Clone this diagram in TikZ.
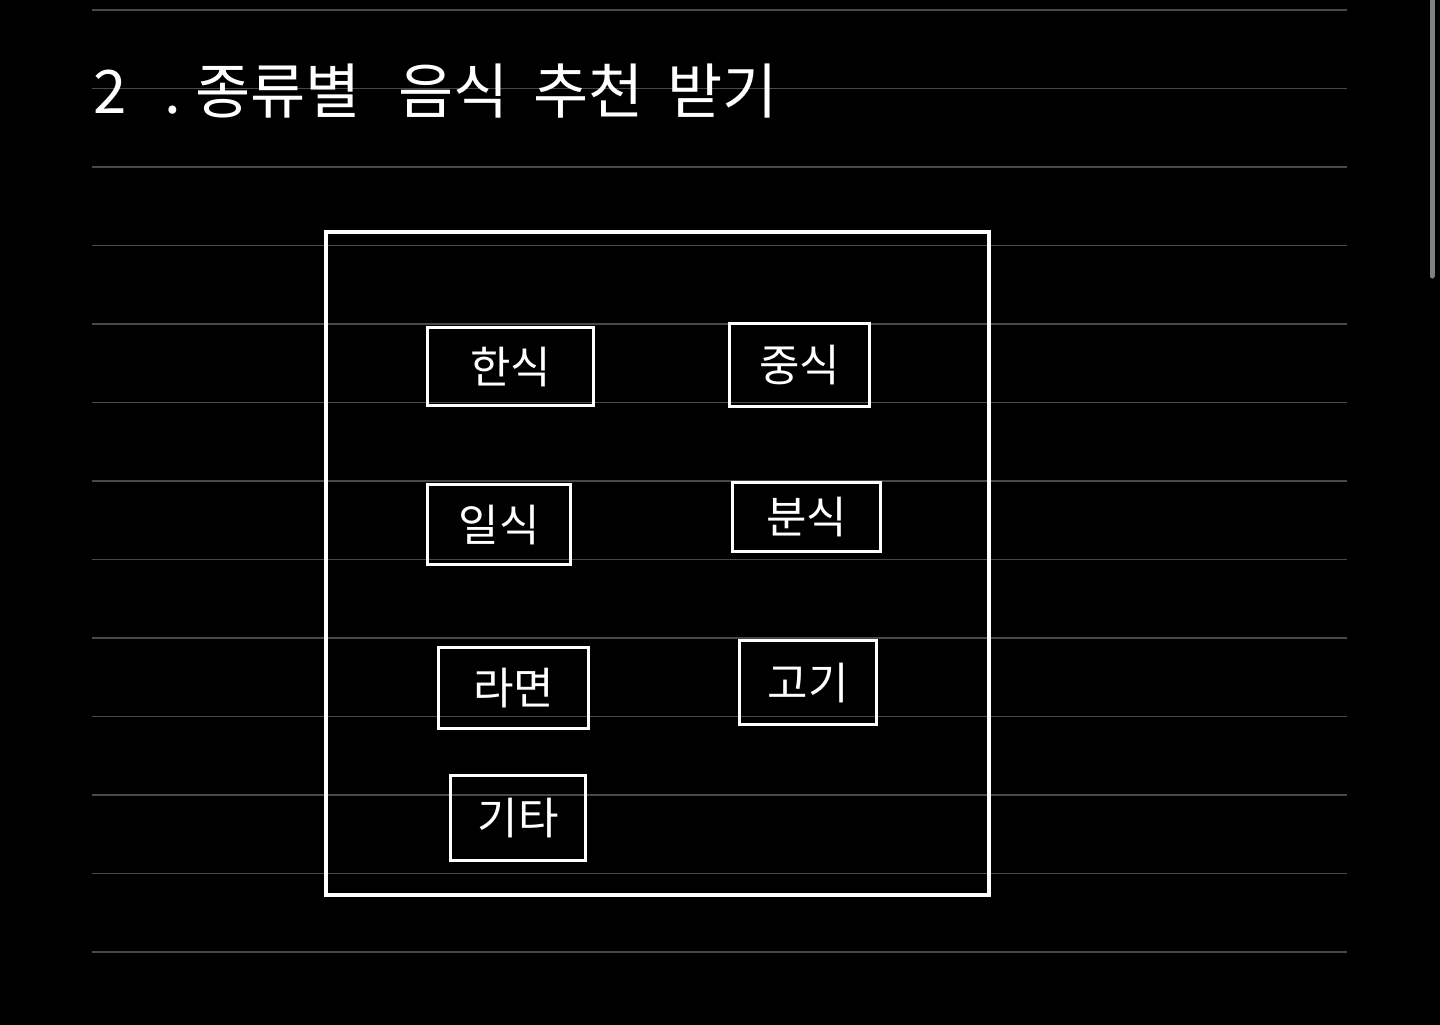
\documentclass[tikz,border=0pt]{standalone}
\usepackage{fontspec}
\newfontfamily\kr{Noto Sans CJK KR}
\usetikzlibrary{positioning}

\definecolor{ruleline}{RGB}{72,72,72}
\definecolor{scrollbar}{RGB}{128,128,128}

\begin{document}
\begin{tikzpicture}[
    x=1pt, y=-1pt,
    every node/.style={text=white},
    frame/.style={
        rectangle,
        draw=white,
        line width=3.5pt,
        minimum width=663pt,
        minimum height=663pt,
        inner sep=0pt
    },
    menu/.style={
        rectangle,
        draw=white,
        line width=3pt,
        inner sep=0pt,
        text centered,
        font=\kr\fontsize{44pt}{48pt}\selectfont
    },
    ruling/.style={draw=ruleline, line width=1.5pt}
]

    % Page
    \fill[black] (0,0) rectangle (1440,1025);
    \useasboundingbox (0,0) rectangle (1440,1025);
    \foreach \i in {0,...,12}
        \draw [ruling] (92,10+78.5*\i) -- (1347,10+78.5*\i);
    \draw [scrollbar, line width=5pt, line cap=round] (1432,0) -- (1432,276);

    % Title (wide gaps as in the handwriting)
    \node (title) [anchor=base west, inner sep=0pt, font=\kr\fontsize{60pt}{66pt}\selectfont] at (93,113)
        {2\hspace{38pt}.\hspace{14pt}종류별\hspace{38pt}음식\hspace{24pt}추천\hspace{24pt}받기};

    % Define nodes
    \node (frame) [frame] at (657.5,563.5) {};

    \node (hansik) [menu, minimum width=166pt, minimum height=78pt,
        below right=96pt and 102pt of frame.north west] {한식};
    \node (jungsik) [menu, minimum width=140pt, minimum height=83pt,
        right=133pt of hansik.north east, anchor=north west, yshift=4pt] {중식};

    \node (ilsik) [menu, minimum width=143pt, minimum height=80pt,
        below=76pt of hansik.south west, anchor=north west] {일식};
    \node (bunsik) [menu, minimum width=148pt, minimum height=69pt,
        below=73pt of jungsik.south west, anchor=north west, xshift=3pt] {분식};

    \node (ramyeon) [menu, minimum width=150pt, minimum height=81pt,
        below=80pt of ilsik.south west, anchor=north west, xshift=11pt] {라면};
    \node (gogi) [menu, minimum width=137pt, minimum height=84pt,
        below=86pt of bunsik.south west, anchor=north west, xshift=7pt] {고기};

    \node (gita) [menu, minimum width=135pt, minimum height=85pt,
        below=44pt of ramyeon.south west, anchor=north west, xshift=12pt] {기타};

\end{tikzpicture}
\end{document}
